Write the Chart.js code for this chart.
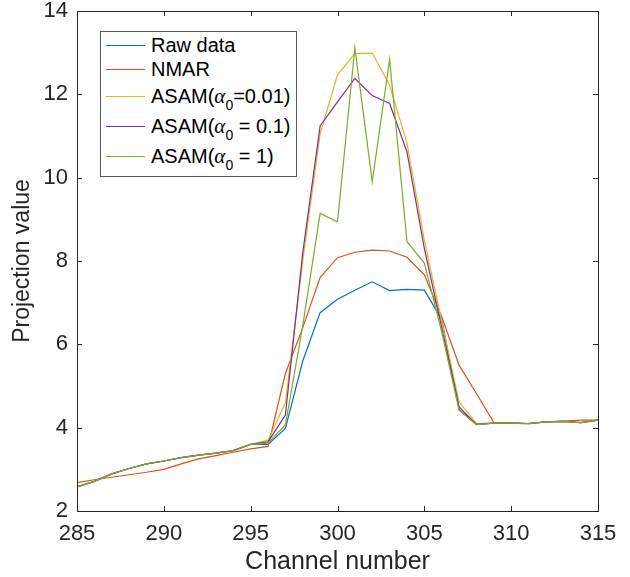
<!DOCTYPE html>
<html>
<head>
<meta charset="utf-8">
<script src="https://cdn.jsdelivr.net/npm/chart.js@4.4.1/dist/chart.umd.min.js"></script>
<style>
  body { margin: 0; background: #fff; }
  #wrap { position: relative; width: 630px; height: 577px; }
  #legend {
    position: absolute; left: 100px; top: 31px; width: 197px; height: 146px;
    box-sizing: border-box; border: 1px solid #5a5a5a; background: #fff;
    padding-top: 1px;
    font-family: 'Liberation Sans', Arial, sans-serif; font-size: 20px; color: #000;
  }
  .row { display: flex; align-items: center; height: 24px; white-space: nowrap; }
  .row.sub { height: 30px; }
  .swatch { display: inline-block; width: 39px; height: 0; margin: 0 6px 0 5px; }
  .alpha { font-family: 'Liberation Serif', 'DejaVu Serif', serif; font-style: italic; font-size: 1.05em; }
  sub { font-size: 0.7em; vertical-align: -0.5em; line-height: 0; }
</style>
</head>
<body>
<div id="wrap">
  <canvas id="chart" width="630" height="577"></canvas>
  <div id="legend"></div>
</div>
<script>
// channel numbers on the x axis
const channels = [285, 286, 287, 288, 289, 290, 291, 292, 293, 294, 295, 296, 297, 298, 299, 300,
                  301, 302, 303, 304, 305, 306, 307, 308, 309, 310, 311, 312, 313, 314, 315];

// values
const rawData = [2.58, 2.71, 2.89, 3.02, 3.13, 3.20, 3.28, 3.34, 3.39, 3.45, 3.60, 3.60, 3.98, 5.60, 6.76, 7.08,
                 7.30, 7.50, 7.29, 7.32, 7.30, 6.60, 4.44, 4.08, 4.11, 4.11, 4.10, 4.14, 4.15, 4.12, 4.18];
const nmar    = [2.68, 2.75, 2.81, 2.87, 2.93, 3.00, 3.13, 3.25, 3.33, 3.41, 3.49, 3.55, 5.30, 6.40, 7.60, 8.08,
                 8.21, 8.26, 8.24, 8.09, 7.67, 6.66, 5.50, 4.82, 4.12, 4.11, 4.09, 4.14, 4.16, 4.18, 4.18];
const asam001 = [2.58, 2.71, 2.89, 3.02, 3.13, 3.20, 3.28, 3.34, 3.39, 3.45, 3.60, 3.70, 4.60, 8.00, 11.05, 12.47,
                 12.98, 12.99, 12.22, 10.83, 8.50, 6.55, 4.62, 4.10, 4.11, 4.11, 4.10, 4.14, 4.15, 4.12, 4.18];
const asam01  = [2.58, 2.71, 2.89, 3.02, 3.13, 3.20, 3.28, 3.34, 3.39, 3.45, 3.60, 3.66, 4.30, 8.20, 11.24, 11.82,
                 12.38, 11.97, 11.78, 10.62, 8.30, 6.40, 4.50, 4.08, 4.11, 4.11, 4.10, 4.14, 4.15, 4.12, 4.18];
const asam1   = [2.58, 2.71, 2.89, 3.02, 3.13, 3.20, 3.28, 3.34, 3.39, 3.45, 3.60, 3.63, 4.07, 6.45, 9.14, 8.94,
                 13.12, 9.90, 12.84, 8.47, 7.95, 6.30, 4.42, 4.07, 4.11, 4.11, 4.10, 4.14, 4.15, 4.12, 4.18];

const seriesNames = ['Raw data', 'NMAR', 'ASAM(α_0=0.01)', 'ASAM(α_0 = 0.1)', 'ASAM(α_0 = 1)'];
const seriesValues = [rawData, nmar, asam001, asam01, asam1];
const seriesColors = ['#0072BD', '#D95319', '#EDB120', '#7E2F8E', '#77AC30'];

const xTicks = [285, 290, 295, 300, 305, 310, 315];
const yTicks = [2, 4, 6, 8, 10, 12, 14];

const axisColor = '#262626';
const fontFamily = "'Liberation Sans', Arial, sans-serif";

// box round the plot and inward ticks, like matlab
const boxTicks = {
    id: 'boxTicks',
    afterDatasetsDraw(chart) {
        const { ctx, chartArea: a, scales: { x, y } } = chart;
        ctx.save();
        ctx.strokeStyle = axisColor;
        ctx.lineWidth = 1;
        ctx.strokeRect(Math.round(a.left) + 0.5, Math.round(a.top) + 0.5,
                       Math.round(a.right - a.left), Math.round(a.bottom - a.top));
        ctx.beginPath();
        xTicks.forEach(v => {
            const px = Math.round(x.getPixelForValue(v)) + 0.5;
            ctx.moveTo(px, a.bottom); ctx.lineTo(px, a.bottom - 5);
            ctx.moveTo(px, a.top); ctx.lineTo(px, a.top + 5);
        });
        yTicks.forEach(v => {
            const py = Math.round(y.getPixelForValue(v)) + 0.5;
            ctx.moveTo(a.left, py); ctx.lineTo(a.left + 5, py);
            ctx.moveTo(a.right, py); ctx.lineTo(a.right - 5, py);
        });
        ctx.stroke();
        ctx.restore();
    }
};

const datasets = seriesNames.map((name, i) => ({
    label: name,
    data: channels.map((c, j) => ({ x: c, y: seriesValues[i][j] })),
    borderColor: seriesColors[i],
    borderWidth: 1.2,
    pointRadius: 0,
    fill: false,
    tension: 0,
    order: seriesNames.length - i // later series on top
}));

new Chart(document.getElementById('chart'), {
    type: 'line',
    data: { datasets: datasets },
    options: {
        responsive: false,
        animation: false,
        devicePixelRatio: 1,
        layout: { padding: { left: 0, top: 11, right: 32, bottom: 0 } },
        plugins: { legend: { display: false }, tooltip: { enabled: false } },
        scales: {
            x: {
                type: 'linear', min: 285, max: 315,
                afterBuildTicks: s => { s.ticks = xTicks.map(v => ({ value: v })); },
                afterFit: s => { s.height = 66; s.paddingLeft = 0; s.paddingRight = 0; },
                grid: { display: false, drawTicks: false },
                border: { display: false },
                ticks: { color: axisColor, padding: 12, font: { family: fontFamily, size: 22, lineHeight: 1 } },
                title: { display: true, text: 'Channel number', color: axisColor,
                         font: { family: fontFamily, size: 25, lineHeight: 1 }, padding: { top: 0, bottom: 2 } }
            },
            y: {
                min: 2, max: 14,
                afterBuildTicks: s => { s.ticks = yTicks.map(v => ({ value: v })); },
                afterFit: s => { s.width = 77; s.paddingTop = 0; s.paddingBottom = 0; },
                grid: { display: false, drawTicks: false },
                border: { display: false },
                ticks: { color: axisColor, padding: 9, font: { family: fontFamily, size: 22, lineHeight: 1 } },
                title: { display: true, text: 'Projection value', color: axisColor,
                         font: { family: fontFamily, size: 23, lineHeight: 1 }, padding: { top: 11, bottom: 0 } }
            }
        }
    },
    plugins: [boxTicks]
});

// legend with the alpha subscript
function legendHtml(name) {
    return name.replace('α_0', '<span class="alpha">α</span><sub>0</sub>');
}

const legend = document.getElementById('legend');
seriesNames.forEach((name, i) => {
    const row = document.createElement('div');
    row.className = name.includes('_') ? 'row sub' : 'row';
    row.innerHTML = `<span class="swatch" style="border-top: 1.3px solid ${seriesColors[i]}"></span>` +
                    `<span>${legendHtml(name)}</span>`;
    legend.appendChild(row);
});
</script>
</body>
</html>
